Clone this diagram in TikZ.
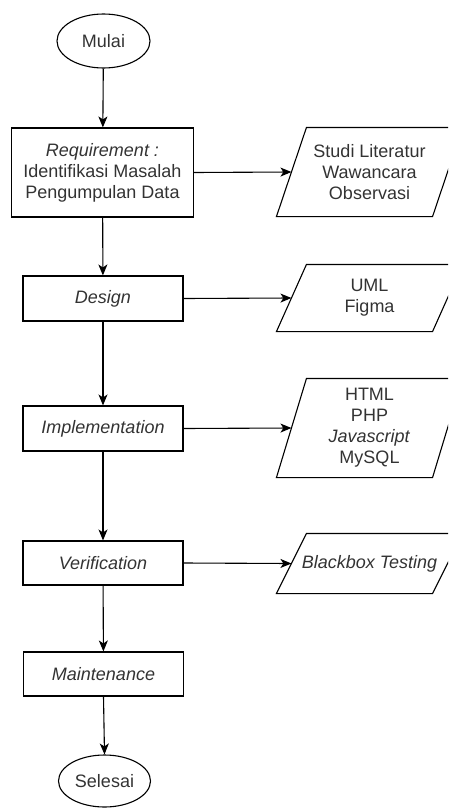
\documentclass[tikz,border=0pt]{standalone}
\usepackage{fontspec}
\setmainfont{Liberation Sans}
\usetikzlibrary{shapes.geometric,arrows.meta}
\definecolor{txt}{HTML}{333333}
\tikzset{
  base/.style={line width=1.1pt, draw=black, text=txt, font=\fontsize{18}{21}\selectfont, align=center, inner sep=2pt},
  procbox/.style={base, rectangle, minimum width=#1},
  procbox/.default=160pt,
  term/.style={base, ellipse, minimum width=93pt, minimum height=54pt, inner sep=0pt},
  iobox/.style={base, draw=none, rectangle, minimum width=155pt, minimum height=#1},
  flow/.style={line width=1.1pt, draw=black, -{Stealth[length=11pt,width=9pt,inset=3pt]}},
  para/.style={line width=1.1pt, draw=black}
}
\begin{document}
\begin{tikzpicture}[x=1pt,y=-1pt]
\clip (0,0) rectangle (448,808);
\useasboundingbox (0,0) rectangle (448,808);

% main column
\node[term] (mulai) at (103.5,41) {Mulai};
\node[procbox=181.5pt, minimum height=89pt] (req) at (102.5,172.5) {\textit{Requirement :}\\Identifikasi Masalah\\Pengumpulan Data};
\node[procbox, minimum height=45pt] (design) at (103,298.5) {\textit{Design}};
\node[procbox, minimum height=45pt] (impl) at (103,428.5) {\textit{Implementation}};
\node[procbox, minimum height=44pt] (verif) at (103,563) {\textit{Verification}};
\node[procbox, minimum height=44pt] (maint) at (103.5,674) {\textit{Maintenance}};
\node[term, minimum width=92pt, minimum height=52pt] (selesai) at (104.5,781) {Selesai};

% parallelograms
\node[iobox=88pt] (studi) at (369.5,172) {Studi Literatur\\Wawancara\\Observasi};
\node[iobox=66pt] (uml) at (369.5,298) {UML\\Figma};
\node[iobox=98pt] (tech) at (369.5,428) {HTML\\PHP\\\textit{Javascript}\\MySQL};
\node[iobox=59pt] (bb) at (369.5,563.5) {\textit{Blackbox Testing}};

\foreach \n in {studi,uml,tech,bb}{
  \draw[para] ([xshift=-15pt]\n.south west) -- ([xshift=-15pt]\n.south east)
     -- ([xshift=15pt]\n.north east) -- ([xshift=15pt]\n.north west) -- cycle;
}

% connectors
\draw[flow] (mulai) -- (req);
\draw[flow] (req) -- (design);
\draw[flow] (design) -- (impl);
\draw[flow] (impl) -- (verif);
\draw[flow] (verif) -- (maint);
\draw[flow] (maint.south) -- (selesai.north);

\draw[flow] (req.east) -- (studi.west);
\draw[flow] (design.east) -- (uml.west);
\draw[flow] (impl.east) -- (tech.west);
\draw[flow] (verif.east) -- (bb.west);
\end{tikzpicture}
\end{document}
